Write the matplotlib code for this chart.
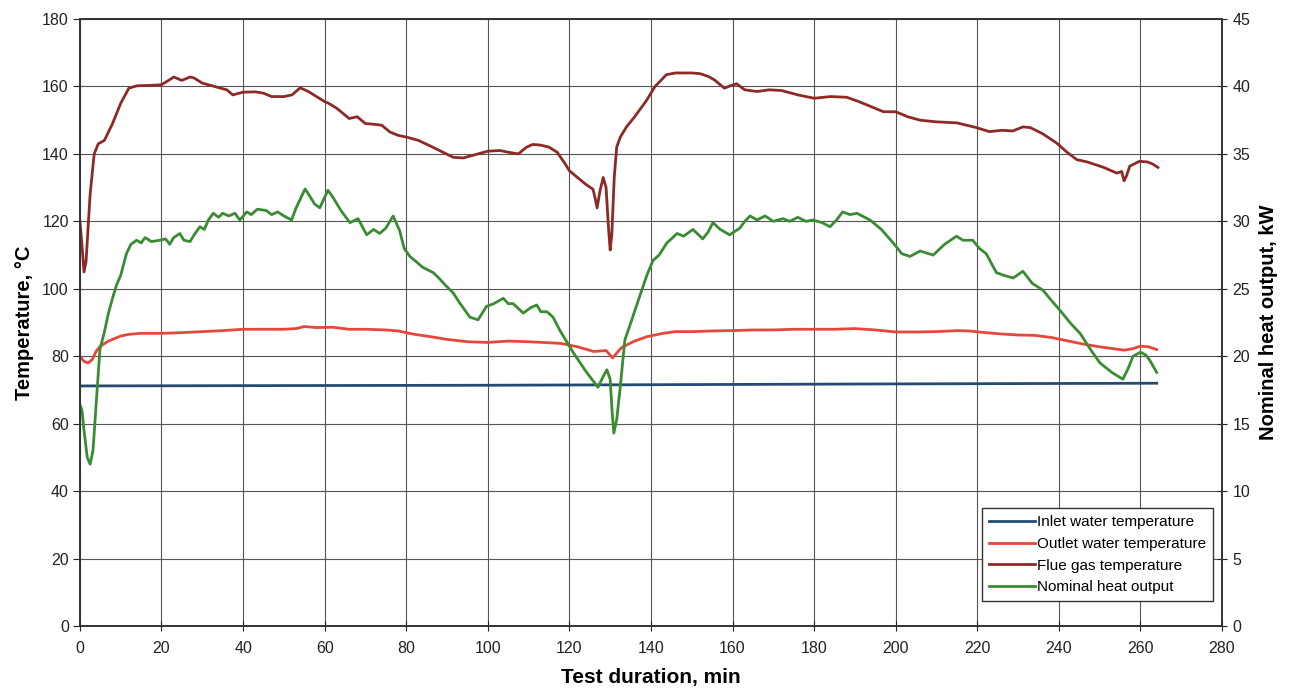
import matplotlib
matplotlib.use('Agg')
import matplotlib.pyplot as plt

plt.rcParams['font.family'] = ['Liberation Sans', 'DejaVu Sans']

# Inlet water temperature (degC)
inlet_t = [0, 50, 100, 150, 200, 264]
inlet_v = [71.2, 71.3, 71.4, 71.6, 71.8, 72.0]

# Outlet water temperature (degC)
outlet_t = [0, 1, 2, 3, 4, 5, 7, 10, 12, 15, 20, 25, 30, 35, 40, 45, 50, 53, 55, 58,
            62, 66, 70, 75, 78, 82, 86, 90, 95, 100, 105, 110, 115, 118, 122, 126, 129,
            130.6, 132.8, 136, 139, 143, 146, 150, 155, 160, 165, 170, 175, 180, 185, 190,
            195, 200, 205, 210, 215, 218, 222, 226, 230, 234, 238, 242, 246, 250, 253, 256,
            258, 260, 262, 264]
outlet_v = [80, 78.5, 78, 79, 81.5, 83, 84.5, 86, 86.5, 86.8, 86.8, 87, 87.3, 87.6, 88, 88,
            88, 88.2, 88.8, 88.5, 88.6, 88, 88, 87.8, 87.5, 86.5, 85.8, 85, 84.3, 84.1, 84.5,
            84.3, 84, 83.8, 82.8, 81.4, 81.7, 79.5, 82.6, 84.5, 85.8, 86.8, 87.3, 87.3, 87.5,
            87.6, 87.8, 87.8, 88, 88, 88, 88.2, 87.8, 87.2, 87.2, 87.3, 87.6, 87.5, 87, 86.6,
            86.3, 86.2, 85.6, 84.6, 83.6, 82.8, 82.3, 81.8, 82.2, 83, 82.8, 82]

# Flue gas temperature (degC)
flue_t = [0, 0.5, 1, 1.5, 2.5, 3.5, 4.5, 6, 8, 10, 12, 14, 17, 20, 22, 23, 25, 27, 28, 30,
          33, 36, 37.5, 40, 43, 45, 47, 50, 52, 54, 56, 58, 60, 61, 63, 65, 66, 68, 70, 72,
          74, 76, 78, 80, 83, 86.5, 89, 91.5, 94, 97, 100, 103, 105, 107.5, 109.5, 111, 113,
          115, 117, 119, 120, 122, 124, 125.8, 126.3, 126.8, 127.5, 128.3, 129, 129.6, 130,
          130.4, 131, 131.6, 132.5, 134, 136, 139, 141, 143.8, 146, 150, 152, 154, 155.5,
          157, 158, 159.5, 161, 163, 166, 169, 172, 176, 180, 184, 188, 191, 194, 197, 200,
          203, 206, 210, 215, 219.8, 223, 226, 228.7, 231.2, 233, 236, 239.5, 242, 244.4,
          247, 251, 254.2, 255.4, 256, 256.6, 257.4, 259.8, 261.8, 263, 264.3]
flue_v = [120, 113, 105, 108, 128, 140, 143, 144, 149, 155, 159.5, 160.2, 160.3, 160.5, 162,
          162.8, 161.8, 162.8, 162.5, 161, 160, 159, 157.5, 158.3, 158.4, 158, 157, 157,
          157.5, 159.6, 158.5, 157, 155.5, 155, 153.5, 151.5, 150.5, 151, 149, 148.8, 148.5,
          146.5, 145.5, 145, 144, 142, 140.5, 139, 138.8, 139.8, 140.8, 141, 140.5, 140, 142,
          142.8, 142.6, 142, 140.5, 137, 135, 133, 131, 129.5, 127, 124, 129, 133, 130, 118,
          111.5, 116, 133, 142, 145, 148, 151, 156, 160, 163.5, 164, 164, 163.8, 163, 162,
          160.5, 159.5, 160.2, 160.8, 159, 158.5, 159, 158.8, 157.5, 156.5, 157, 156.8, 155.5,
          154, 152.5, 152.5, 151, 150, 149.5, 149.2, 147.8, 146.6, 147, 146.8, 148, 147.8,
          146, 143.2, 140.5, 138.3, 137.6, 136, 134.3, 134.8, 132, 133.5, 136.4, 137.8,
          137.6, 137, 136]

# Nominal heat output (kW, right axis)
heat_t = [0, 0.5, 1, 1.8, 2.5, 3.2, 4, 4.9, 6, 7, 8, 9, 10, 11.4, 12.5, 13.9, 15, 16, 17.5,
          19.6, 21, 22, 23, 24.5, 25.5, 27, 28, 29.4, 30.5, 31.5, 32.7, 34, 35, 36.5, 38,
          39.2, 40.9, 42, 43.5, 45.7, 47, 48.5, 50, 51.9, 53, 55.2, 56.5, 57.5, 58.8, 60.8,
          62, 64, 66.2, 68.2, 70.3, 72, 73.5, 75, 76.8, 78.4, 79.5, 80.9, 82.5, 84, 86.6,
          88, 89.5, 91.5, 93, 95.6, 97.6, 99.7, 101.5, 103.8, 105, 106.2, 108.7, 110.5, 112,
          113, 114.5, 116, 117.7, 120.9, 124, 127, 128.3, 129.2, 130, 130.5, 130.9, 131.6,
          132.4, 133.6, 135.3, 137.3, 139, 140.5, 142, 143.9, 145, 146.4, 148, 150.3, 152.7,
          154, 155.2, 157, 159.3, 161.8, 163, 164.3, 166, 168, 170, 172.4, 174, 176, 178,
          179.7, 182, 183.9, 185.5, 187, 188.8, 190.5, 193.7, 196.5, 199.4, 201.5, 203.5,
          206, 209.2, 212, 214.9, 216.5, 218.9, 220.5, 222.2, 224.7, 226.5, 228.8, 231.2,
          233.5, 236.1, 238, 240.3, 243, 245.2, 248, 250.1, 253, 255.7, 257, 258.2, 260,
          261.3, 262.3, 264]
heat_v = [16.4, 16.0, 14.5, 12.5, 12.0, 13.0, 16.5, 20.5, 21.8, 23.2, 24.3, 25.3, 26, 27.6,
          28.3, 28.6, 28.4, 28.8, 28.5, 28.6, 28.7, 28.3, 28.8, 29.1, 28.6, 28.5, 29, 29.6,
          29.4, 30.1, 30.6, 30.3, 30.6, 30.4, 30.6, 30.1, 30.7, 30.5, 30.9, 30.8, 30.5, 30.7,
          30.4, 30.1, 31, 32.4, 31.8, 31.3, 31, 32.3, 31.8, 30.8, 29.9, 30.2, 29, 29.4, 29.1,
          29.5, 30.4, 29.3, 28, 27.4, 27, 26.6, 26.2, 25.8, 25.3, 24.7, 24, 22.9, 22.7, 23.7,
          23.9, 24.3, 23.9, 23.9, 23.2, 23.6, 23.8, 23.3, 23.3, 22.9, 21.9, 20.3, 18.9, 17.7,
          18.5, 19, 18.3, 15.8, 14.3, 15.3, 17.5, 21.2, 22.7, 24.5, 26, 27.1, 27.5, 28.4,
          28.7, 29.1, 28.9, 29.4, 28.7, 29.2, 29.9, 29.4, 29, 29.5, 30, 30.4, 30.1, 30.4, 30,
          30.2, 30, 30.3, 30, 30.1, 29.9, 29.6, 30.1, 30.7, 30.5, 30.6, 30.1, 29.4, 28.4,
          27.6, 27.4, 27.8, 27.5, 28.3, 28.9, 28.6, 28.6, 28, 27.6, 26.2, 26, 25.8, 26.3,
          25.4, 24.9, 24.2, 23.4, 22.4, 21.7, 20.4, 19.5, 18.8, 18.3, 19.1, 20, 20.3, 20.1,
          19.7, 18.8]

fig = plt.figure(figsize=(12.89, 6.91), dpi=100)
ax = fig.add_axes([0.062, 0.094, 0.886, 0.8785])
ax2 = ax.twinx()

lw = 2.0
l1, = ax.plot(inlet_t, inlet_v, color='#244a72', lw=lw, label='Inlet water temperature')
l2, = ax.plot(outlet_t, outlet_v, color='#e5473a', lw=lw, label='Outlet water temperature')
l3, = ax.plot(flue_t, flue_v, color='#8e2a26', lw=lw, label='Flue gas temperature')
l4, = ax2.plot(heat_t, heat_v, color='#3a8c32', lw=lw, label='Nominal heat output')

ax.set_xlim(0, 280)
ax.set_ylim(0, 180)
ax2.set_ylim(0, 45)
ax.set_xticks(range(0, 281, 20))
ax.set_yticks(range(0, 181, 20))
ax2.set_yticks(range(0, 46, 5))

ax.grid(True, color='#555555', lw=0.8)
ax.set_axisbelow(True)
for a in (ax, ax2):
    for s in a.spines.values():
        s.set_color('#333333')
        s.set_linewidth(1.2)

ax.tick_params(axis='y', direction='out', length=5, labelsize=11.5, colors='#222222', pad=3)
ax.tick_params(axis='x', direction='inout', length=7, labelsize=11.5, colors='#222222', pad=7)
ax2.tick_params(axis='y', direction='inout', length=7, labelsize=11.5, colors='#222222', pad=4)

ax.set_xlabel('Test duration, min', fontsize=15, fontweight='bold', labelpad=9)
ax.set_ylabel('Temperature, \u00b0C', fontsize=14.5, fontweight='bold', labelpad=6)
ax2.set_ylabel('Nominal heat output, kW', fontsize=14.5, fontweight='bold', labelpad=6)

leg = ax2.legend(handles=[l1, l2, l3, l4], loc='lower right',
                 bbox_to_anchor=(0.992, 0.041), fontsize=11, frameon=True,
                 fancybox=False, edgecolor='#333333', framealpha=1,
                 handlelength=3.0, handletextpad=0.15, borderpad=0.45, labelspacing=0.5,
                 borderaxespad=0)
leg.get_frame().set_linewidth(1.0)

fig.savefig('out.png', dpi=100)
